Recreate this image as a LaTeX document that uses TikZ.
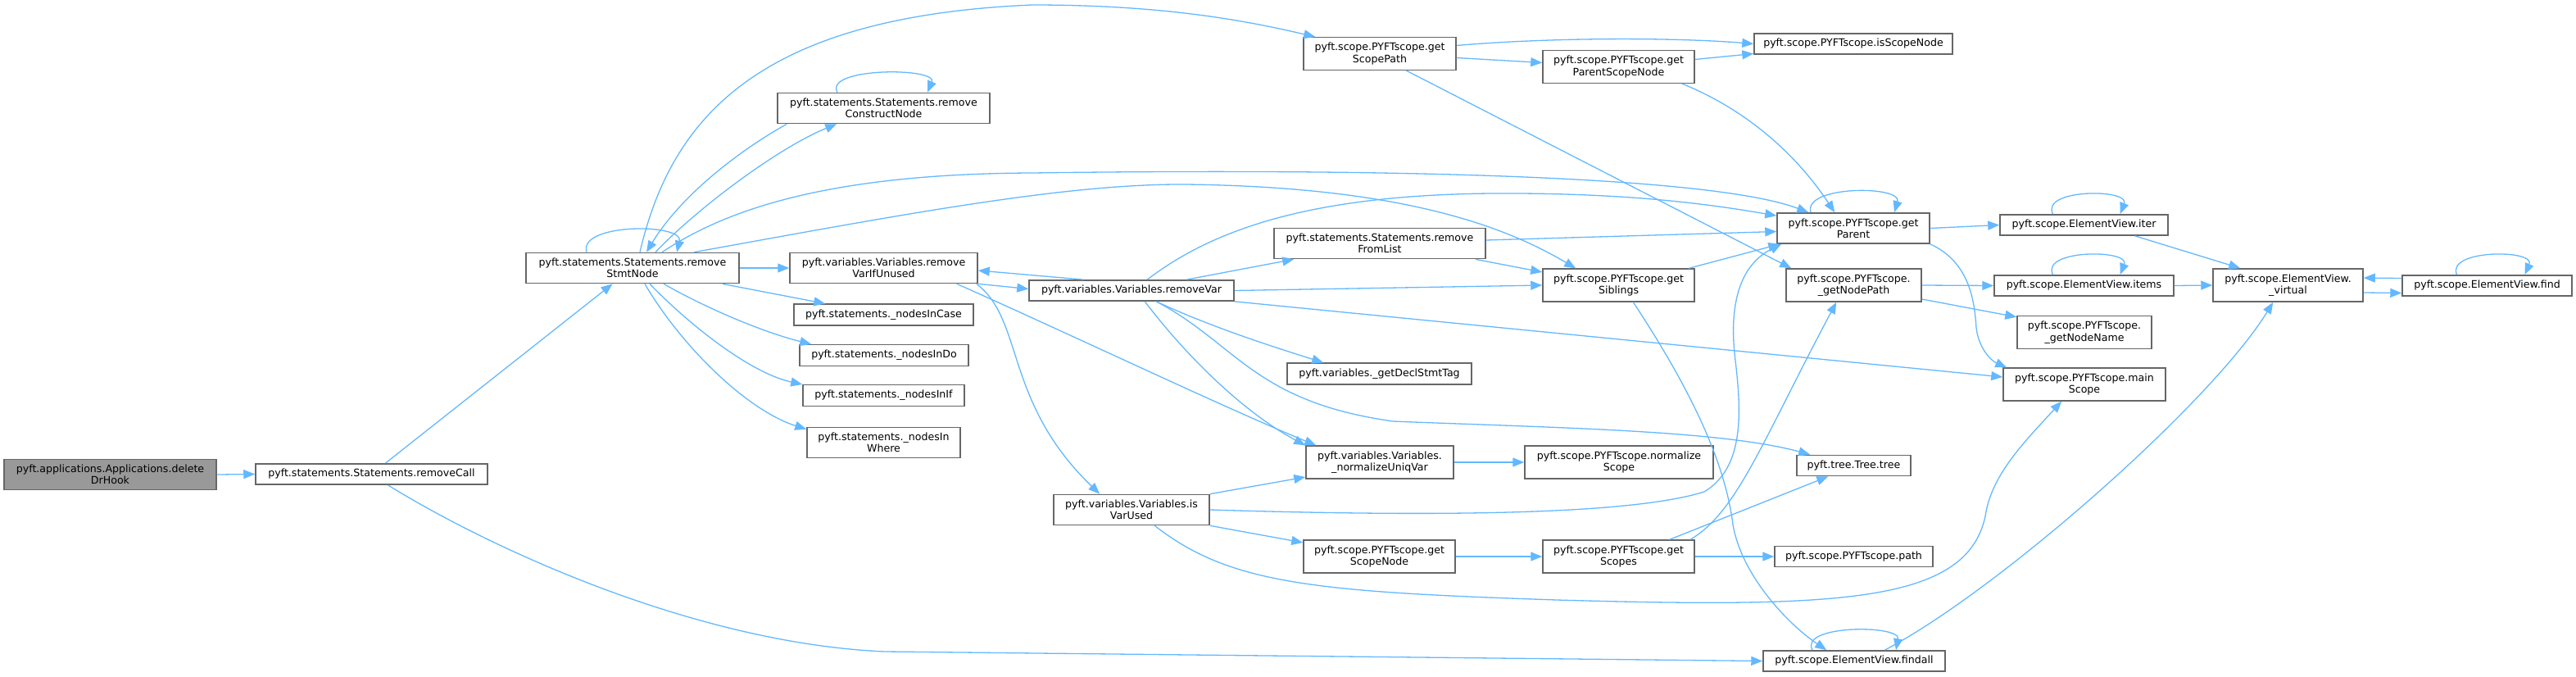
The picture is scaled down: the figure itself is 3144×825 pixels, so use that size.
\documentclass[tikz,border=0pt]{standalone}
\usepackage{fontspec}
\setmainfont{DejaVu Sans}
\usetikzlibrary{arrows.meta, calc}
\definecolor{cgedge}{RGB}{99, 184, 255}
\definecolor{cgline}{RGB}{102, 102, 102}
\definecolor{cgroot}{RGB}{153, 153, 153}

\begin{document}
\begin{tikzpicture}[
    x=1pt, y=-1pt,
    fn/.style={rectangle, draw=cgline, line width=1.5pt, fill=white,
               minimum height=25pt, inner xsep=2pt, inner ysep=6.5pt,
               font=\fontsize{12.6}{14.4}\selectfont, align=center},
    rootfn/.style={fn, fill=cgroot},
    call/.style={-{Triangle[length=14pt, width=11pt]}, line width=1.3pt, cgedge}
]
\useasboundingbox (0,0) rectangle (3144,825);

\node[rootfn, minimum width=259pt] (hook)    at (134.5,579)  {pyft.applications.Applications.delete\\DrHook};
\node[fn, minimum width=283pt] (rcall)   at (453.5,578.5) {pyft.statements.Statements.removeCall};
\node[fn, minimum width=260pt] (rstmt)   at (772,327)    {pyft.statements.Statements.remove\\StmtNode};
\node[fn, minimum width=259pt] (rcons)   at (1078.5,132) {pyft.statements.Statements.remove\\ConstructNode};
\node[fn, minimum width=229pt] (rvarif)  at (1078.5,327) {pyft.variables.Variables.remove\\VarIfUnused};
\node[fn, minimum width=219pt] (ncase)   at (1078.5,384) {pyft.statements.\_nodesInCase};
\node[fn, minimum width=206pt] (ndo)     at (1079,433.5) {pyft.statements.\_nodesInDo};
\node[fn, minimum width=197pt] (nif)     at (1078.5,482.5) {pyft.statements.\_nodesInIf};
\node[fn, minimum width=187pt] (nwhere)  at (1078.5,540) {pyft.statements.\_nodesIn\\Where};
\node[fn, minimum width=250pt] (rvar)    at (1381,354.5) {pyft.variables.Variables.removeVar};
\node[fn, minimum width=190pt] (isused)  at (1381,622)   {pyft.variables.Variables.is\\VarUsed};
\node[fn, minimum width=258pt] (rlist)   at (1684,297)   {pyft.statements.Statements.remove\\FromList};
\node[fn, minimum width=225pt] (decl)    at (1683.5,456) {pyft.variables.\_getDeclStmtTag};
\node[fn, minimum width=180pt] (normvar) at (1684,564)   {pyft.variables.Variables.\\\_normalizeUniqVar};
\node[fn, minimum width=185pt] (snode)   at (1683.5,679) {pyft.scope.PYFTscope.get\\ScopeNode};
\node[fn, minimum width=186pt] (spath)   at (1684,65.5)  {pyft.scope.PYFTscope.get\\ScopePath};
\node[fn, minimum width=185pt] (pscope)  at (1975.5,81.5) {pyft.scope.PYFTscope.get\\ParentScopeNode};
\node[fn, minimum width=185pt] (sibl)    at (1975.5,348) {pyft.scope.PYFTscope.get\\Siblings};
\node[fn, minimum width=230pt] (nscope)  at (1976,564)   {pyft.scope.PYFTscope.normalize\\Scope};
\node[fn, minimum width=185pt] (scopes)  at (1975.5,679) {pyft.scope.PYFTscope.get\\Scopes};
\node[fn, minimum width=242pt] (isscope) at (2262,53.5)  {pyft.scope.PYFTscope.isScopeNode};
\node[fn, minimum width=186pt] (parent)  at (2262,278.5) {pyft.scope.PYFTscope.get\\Parent};
\node[fn, minimum width=165pt] (npath)   at (2262.5,348) {pyft.scope.PYFTscope.\\\_getNodePath};
\node[fn, minimum width=139pt] (tree)    at (2262.5,568) {pyft.tree.Tree.tree};
\node[fn, minimum width=193pt] (path)    at (2262.5,679) {pyft.scope.PYFTscope.path};
\node[fn, minimum width=222pt] (findall) at (2263,806.5) {pyft.scope.ElementView.findall};
\node[fn, minimum width=205pt] (iter)    at (2543.5,274.5) {pyft.scope.ElementView.iter};
\node[fn, minimum width=219pt] (items)   at (2543.5,348.5) {pyft.scope.ElementView.items};
\node[fn, minimum width=164pt] (nname)   at (2544,405.5) {pyft.scope.PYFTscope.\\\_getNodeName};
\node[fn, minimum width=198pt] (mainsc)  at (2544,469)   {pyft.scope.PYFTscope.main\\Scope};
\node[fn, minimum width=183pt] (virt)    at (2792.5,348) {pyft.scope.ElementView.\\\_virtual};
\node[fn, minimum width=207pt] (find)    at (3035.5,348.5) {pyft.scope.ElementView.find};

\draw[call] (hook.east) -- (rcall.west);
\draw[call] (rcall) -- (rstmt);
\draw[call] ([xshift=20pt]rcall.south) .. controls (600,670) and (850,785) .. (1080,795) -- (findall.west);

\draw[call] ([xshift=-56pt]rstmt.north) .. controls (705,272) and (835,272) .. ([xshift=54pt]rstmt.north);
\draw[call] ([xshift=12pt]rcons.south west) .. controls (900,185) and (830,240) .. ([xshift=17pt]rstmt.north);
\draw[call] ([xshift=28pt]rstmt.north) .. controls (850,255) and (950,180) .. ([xshift=73pt]rcons.south west);
\draw[call] ([xshift=-56.5pt]rcons.north) .. controls (1005,82) and (1145,82) .. ([xshift=53.5pt]rcons.north);
\draw[call] ([xshift=9pt]rstmt.north) .. controls (820,140) and (930,20) .. (1260,6)
            .. controls (1420,6) and (1520,25) .. ([xshift=15pt]spath.north west);
\draw[call] ([xshift=36pt]rstmt.north) .. controls (880,260) and (1000,212) .. (1260,211)
            .. controls (1700,205) and (2090,215) .. ([xshift=39pt]parent.north west);
\draw[call] ([xshift=75pt]rstmt.north) .. controls (1100,262) and (1300,224) .. (1447,225)
            .. controls (1700,228) and (1830,272) .. ([xshift=41pt]sibl.north west);
\draw[call] (rstmt.east) -- (rvarif.west);
\draw[call] ([xshift=-21pt]rstmt.south east) -- ([xshift=39pt]ncase.north west);
\draw[call] ([xshift=38pt]rstmt.south) .. controls (860,375) and (930,405) .. ([xshift=15pt]ndo.north west);
\draw[call] ([xshift=21pt]rstmt.south) .. controls (840,395) and (915,455) .. (nif.north west);
\draw[call] ([xshift=15pt]rstmt.south) .. controls (830,420) and (910,500) .. ([yshift=-3pt]nwhere.north west);

\draw[call] (rvarif.south east) -- ([yshift=2pt]rvar.west);
\draw[call] ([xshift=67pt]rvar.north west) -- ([yshift=-3pt]rvarif.east);
\draw[call] ([xshift=-2pt]rvarif.south east) .. controls (1250,390) and (1225,490) .. ([xshift=57pt]isused.north west);
\draw[call] ([xshift=-26pt]rvarif.south east) .. controls (1300,405) and (1500,500) .. ([xshift=13pt]normvar.north west);

\draw[call] ([xshift=193pt]rvar.north west) -- ([xshift=25pt]rlist.south west);
\draw[call] (rvar.east) -- (sibl.west);
\draw[call] ([xshift=145pt]rvar.north west) .. controls (1480,280) and (1600,238) .. (1820,236)
            .. controls (1980,235) and (2080,248) .. ([yshift=-4pt]parent.north west);
\draw[call] ([xshift=156pt]rvar.south west) .. controls (1480,400) and (1560,425) .. ([xshift=45pt]decl.north west);
\draw[call] ([xshift=142pt]rvar.south west) .. controls (1460,450) and (1530,510) .. (normvar.north west);
\draw[call] ([xshift=156pt]rvar.south west) .. controls (1510,420) and (1530,490) .. (1700,514)
            .. controls (1900,522) and (2100,525) .. ([xshift=17pt]tree.north west);
\draw[call] (rvar.south east) -- ([yshift=9pt]mainsc.west);

\draw[call] ([yshift=4pt]rlist.east) -- ([yshift=-4pt]parent.west);
\draw[call] ([xshift=-13pt]rlist.south east) -- ([yshift=16pt]sibl.west);

\draw[call] (isused.north east) -- ([yshift=-18pt]normvar.west);
\draw[call] (isused.south east) -- ([yshift=17pt]snode.west);
\draw[call] (isused.east) .. controls (1800,632) and (2000,625) .. (2080,600)
            .. controls (2130,570) and (2125,500) .. (2118,440)
            .. controls (2108,360) and (2130,320) .. ([xshift=6pt]parent.south west);
\draw[call] ([xshift=124pt]isused.south west) .. controls (1500,712) and (1600,722) .. (1900,732)
            .. controls (2250,742) and (2400,735) .. (2423,630)
            .. controls (2430,580) and (2470,540) .. ([xshift=72pt]mainsc.south west);

\draw[call] (normvar.east) -- (nscope.west);
\draw[call] (snode.east) -- (scopes.west);
\draw[call] (scopes.east) -- (path.west);
\draw[call] ([xshift=155pt]scopes.north west) -- ([xshift=39pt]tree.south west);
\draw[call] ([xshift=-6pt]scopes.north east) .. controls (2120,625) and (2150,540) .. ([xshift=62pt]npath.south west);

\draw[call] ([xshift=-8pt]sibl.north east) -- ([xshift=4pt]parent.south west);
\draw[call] ([xshift=111pt]sibl.south west) .. controls (2060,470) and (2105,560) .. (2115,640)
            .. controls (2125,700) and (2180,760) .. ([xshift=78pt]findall.north west);

\draw[call] ([yshift=10pt]spath.east) .. controls (1900,45) and (2050,46) .. (isscope.west);
\draw[call] ([yshift=-5pt]spath.east) -- ([yshift=5pt]pscope.west);
\draw[call] ([xshift=126pt]spath.south west) -- ([xshift=7pt]npath.north west);
\draw[call] ([yshift=9pt]pscope.east) -- ([yshift=-12pt]isscope.west);
\draw[call] ([xshift=-16pt]pscope.south east) .. controls (2110,125) and (2180,170) .. ([xshift=71pt]parent.north west);

\draw[call] ([xshift=-52pt]parent.north) .. controls (2200,226) and (2322,226) .. ([xshift=50pt]parent.north);
\draw[call] (parent.east) -- (iter.west);
\draw[call] (parent.south east) .. controls (2405,320) and (2410,370) .. (2412,400)
            .. controls (2415,425) and (2430,440) .. ([xshift=5pt]mainsc.north west);
\draw[call] (npath.east) -- (items.west);
\draw[call] ([yshift=-17pt]npath.east) -- ([yshift=-2pt]nname.north west);

\draw[call] ([xshift=-38pt]iter.north) .. controls (2490,230) and (2600,230) .. ([xshift=44pt]iter.north);
\draw[call] ([xshift=-41pt]iter.south east) -- ([xshift=34pt]virt.north west);
\draw[call] ([xshift=-38pt]items.north) .. controls (2490,304) and (2600,304) .. ([xshift=44pt]items.north);
\draw[call] (items.east) -- (virt.west);
\draw[call] ([yshift=-9pt]virt.east) -- ([yshift=-9pt]find.west);
\draw[call] ([yshift=9pt]find.west) -- ([yshift=9pt]virt.east);
\draw[call] ([xshift=-37pt]find.north) .. controls (2985,304) and (3095,304) .. ([xshift=46pt]find.north);
\draw[call] ([xshift=149pt]findall.north west) .. controls (2440,720) and (2700,490) .. ([xshift=74pt]virt.south west);
\draw[call] ([xshift=-51pt]findall.north) .. controls (2195,762) and (2320,762) .. ([xshift=51pt]findall.north);
\end{tikzpicture}
\end{document}
